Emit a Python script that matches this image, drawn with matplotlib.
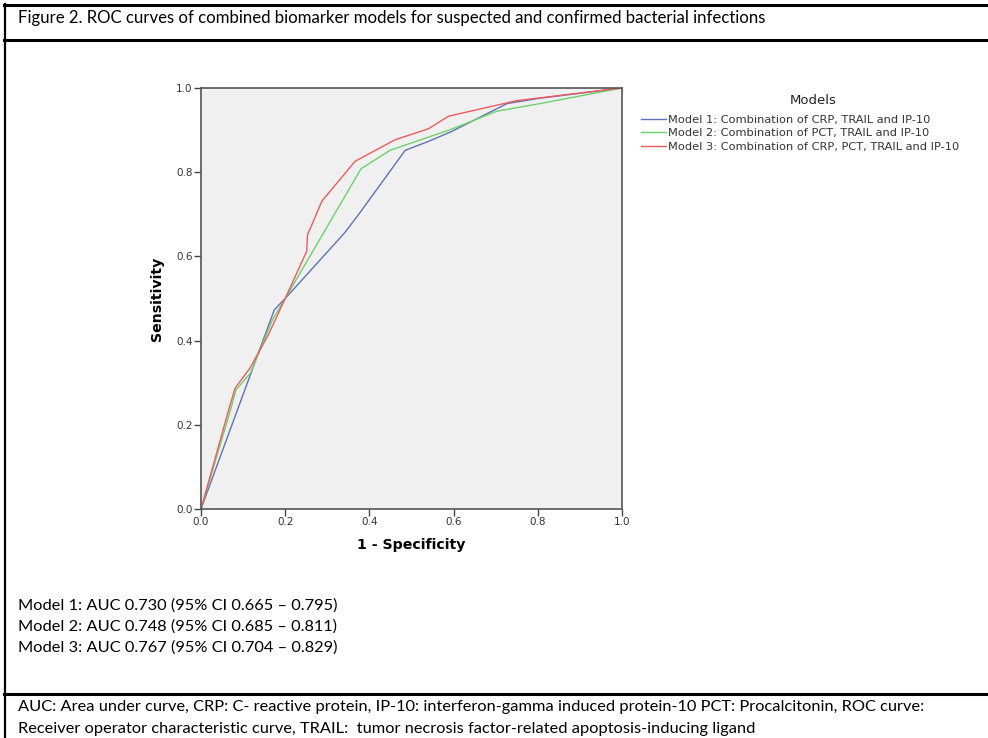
import matplotlib
matplotlib.use('Agg')
import matplotlib.pyplot as plt
from matplotlib.lines import Line2D

# ROC curve points (1 - specificity, sensitivity)
m1_fpr = [0.0, 0.174, 0.200, 0.342, 0.374, 0.485, 0.540, 0.596, 0.727, 0.800, 1.0]
m1_tpr = [0.0, 0.473, 0.500, 0.657, 0.699, 0.852, 0.873, 0.897, 0.963, 0.975, 1.0]

m2_fpr = [0.0, 0.069, 0.083, 0.117, 0.170, 0.200, 0.380, 0.449, 0.592, 0.703, 0.800, 1.0]
m2_tpr = [0.0, 0.231, 0.283, 0.322, 0.450, 0.500, 0.808, 0.852, 0.901, 0.945, 0.962, 1.0]

m3_fpr = [0.0, 0.069, 0.081, 0.116, 0.160, 0.200, 0.251, 0.253, 0.287, 0.366, 0.461, 0.540, 0.588, 0.750, 1.0]
m3_tpr = [0.0, 0.247, 0.287, 0.334, 0.414, 0.500, 0.612, 0.651, 0.731, 0.826, 0.877, 0.903, 0.933, 0.970, 1.0]

model_labels = [
    "Model 1: Combination of CRP, TRAIL and IP-10",
    "Model 2: Combination of PCT, TRAIL and IP-10",
    "Model 3: Combination of CRP, PCT, TRAIL and IP-10",
]
model_colors = ['#5f72b8', '#6ad36a', '#ef5b5b']

auc_lines = [
    "Model 1: AUC 0.730 (95% CI 0.665 \u2013 0.795)",
    "Model 2: AUC 0.748 (95% CI 0.685 \u2013 0.811)",
    "Model 3: AUC 0.767 (95% CI 0.704 \u2013 0.829)",
]
ticks = [0.0, 0.2, 0.4, 0.6, 0.8, 1.0]

title = "Figure 2. ROC curves of combined biomarker models for suspected and confirmed bacterial infections"
footnote_1 = ("AUC: Area under curve, CRP: C- reactive protein, IP-10: interferon-gamma induced "
              "protein-10 PCT: Procalcitonin, ROC curve:")
footnote_2 = "Receiver operator characteristic curve, TRAIL:  tumor necrosis factor-related apoptosis-inducing ligand"

W, H = 988, 738
fig = plt.figure(figsize=(W / 100, H / 100), dpi=100)


def fx(px):
    return px / W


def fy(py):
    return 1 - py / H


# table border lines around the document text
for y in (5, 40, 694):
    fig.add_artist(Line2D([fx(4), 1], [fy(y), fy(y)], color='black', lw=2.2,
                          transform=fig.transFigure))
fig.add_artist(Line2D([fx(5), fx(5)], [fy(4), 0], color='black', lw=1.6,
                      transform=fig.transFigure))

doc_font = 'Lato'
doc_size = 11.8
fig.text(fx(18), fy(18), title, family=doc_font, fontsize=12.1, va='center', ha='left')
for i, line in enumerate(auc_lines):
    fig.text(fx(18), fy(606 + 21 * i), line, family=doc_font, fontsize=doc_size, va='center', ha='left')
fig.text(fx(18), fy(707), footnote_1, family=doc_font, fontsize=doc_size, va='center', ha='left')
fig.text(fx(18), fy(729), footnote_2, family=doc_font, fontsize=doc_size, va='center', ha='left')

# ROC axes
ax = fig.add_axes([fx(201), fy(509), 421 / W, 421 / H])
ax.set_facecolor('#f0f0f0')
curves = [(m1_fpr, m1_tpr), (m2_fpr, m2_tpr), (m3_fpr, m3_tpr)]
for (xs, ys), lab, col in zip(curves, model_labels, model_colors):
    ax.plot(xs, ys, color=col, lw=1.0, label=lab)

ax.set_xlim(0, 1)
ax.set_ylim(0, 1)
ax.set_xticks(ticks)
ax.set_yticks(ticks)
ax.set_xticklabels([f"{t:.1f}" for t in ticks])
ax.set_yticklabels([f"{t:.1f}" for t in ticks])
ax.tick_params(direction='out', length=5, width=1, colors='#444444', labelsize=7.5,
               labelcolor='#333333', pad=1)
for sp in ax.spines.values():
    sp.set_color('#555555')
    sp.set_linewidth(1.2)

ax.set_xlabel("1 - Specificity", fontsize=10.2, fontweight='bold', labelpad=8)
ax.set_ylabel("Sensitivity", fontsize=10.2, fontweight='bold', labelpad=9)

# legend title drawn separately so the gap above the entries matches
fig.text(fx(813), fy(100), "Models", fontsize=9.5, ha='center', va='center', color='#222222')
leg = fig.legend(loc='upper left', bbox_to_anchor=(fx(641), fy(115)), frameon=False,
                 fontsize=8.2, handlelength=2.2, handletextpad=0.2, labelspacing=0.3,
                 borderaxespad=0, borderpad=0)
for t in leg.get_texts():
    t.set_color('#333333')

fig.savefig('out.png', dpi=100)
